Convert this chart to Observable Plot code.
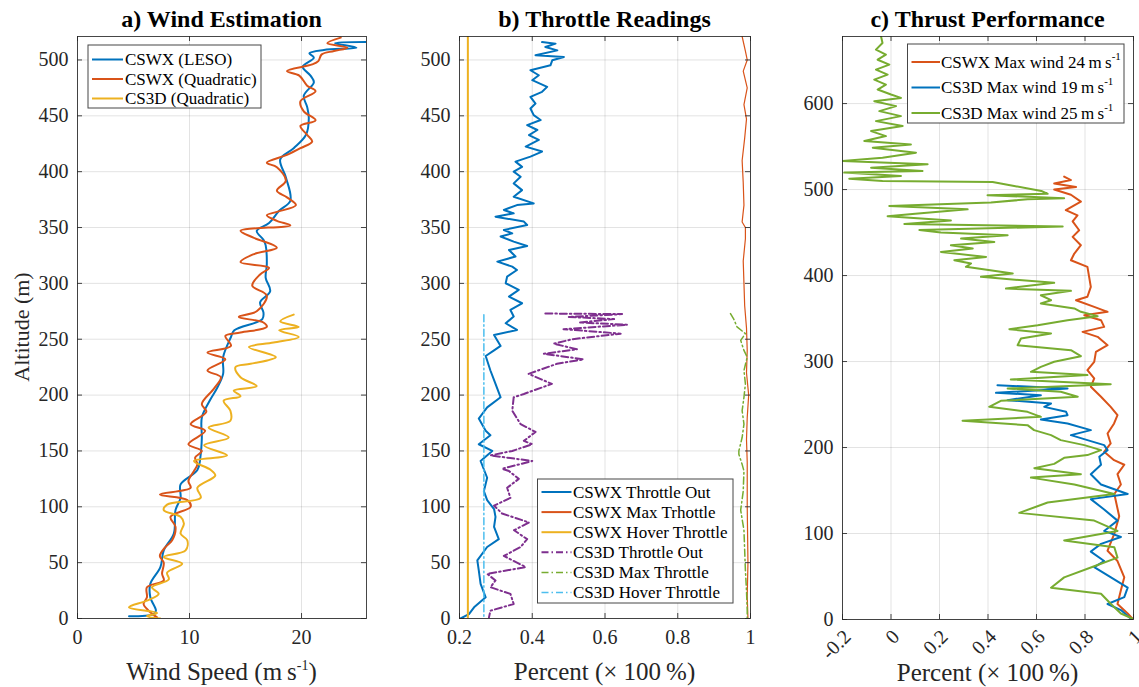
<!DOCTYPE html>
<html><head><meta charset="utf-8">
<script src="https://cdn.jsdelivr.net/npm/d3@7"></script>
<script src="https://cdn.jsdelivr.net/npm/@observablehq/plot@0.6"></script>
<style>
body{margin:0;background:#fff;}
#wrap{position:relative;width:1139px;height:687px;overflow:hidden;font-family:"Liberation Serif","Times New Roman",serif;color:#262626;background:#fff;}
.panel{position:absolute;top:0;}
.panel svg{max-width:none;}
.panel svg text{font-family:"Liberation Serif","Times New Roman",serif;}
.title{position:absolute;font-weight:bold;font-size:24px;color:#000;transform:translateX(-50%);white-space:nowrap;line-height:28px;}
.xlab{position:absolute;font-size:25px;color:#262626;transform:translate(-50%,-50%);white-space:nowrap;}
.xlab sup{font-size:14px;vertical-align:10px;line-height:0;}
.ylab{position:absolute;font-size:22px;color:#262626;transform:translate(-50%,-50%) rotate(-90deg);white-space:nowrap;}
#overlay{position:absolute;left:0;top:0;pointer-events:none;}
</style></head>
<body><div id="wrap"></div>
<script>
// ---------------- DATA ----------------
// Panel a: [altitude m, wind speed m/s]
const windLESO = [[516,25.8],[515,23.0],[511,24.9],[509,22.0],[506,20.7],[502,21.1],[494,20.1],[486,20.8],[480,21.1],[468,20.2],[458,20.5],[448,20.65],[433,20.4],[421,19.3],[411,18.1],[395,18.6],[374,19.0],[365,18.0],[354,17.1],[347,16.0],[339,16.6],[334,16.8],[317,16.9],[305,16.8],[293,17.2],[283,16.3],[274,16.6],[268,16.5],[258,14.0],[252,13.7],[234,13.0],[219,13.0],[207,12.5],[195,11.8],[180,11.1],[162,11.1],[147,11.0],[133,10.7],[120,9.2],[108,9.2],[97,8.75],[76,8.6],[61,7.7],[46,7.4],[31,6.5],[19,6.5],[7,7.0],[4,6.8],[2,4.6]];
const windQuadCSWX = [[520,23.5],[515,22.3],[511,24.1],[508,22.9],[505,21.8],[499,21.5],[496,20.95],[490,18.7],[486,19.8],[477,20.5],[472,21.25],[463,19.9],[454,20.2],[446,21.25],[441,19.9],[433,20.5],[427,20.95],[421,19.9],[415,18.7],[408,16.9],[404,17.8],[392,18.6],[383,17.8],[377,18.7],[370,19.5],[364,17.8],[361,16.9],[356,17.8],[352,19.0],[347,14.55],[341,15.7],[332,17.8],[326,15.7],[319,14.55],[314,17.1],[308,16.3],[298,15.6],[289,16.9],[275,16.0],[270,14.4],[265,16.6],[261,16.9],[256,14.55],[253,13.2],[244,13.7],[238,11.6],[232,13.2],[222,11.6],[216,12.8],[206,12.2],[192,11.1],[185,11.5],[174,10.1],[168,11.4],[156,9.9],[150,11.1],[144,10.5],[138,10.7],[132,10.4],[123,9.9],[117,10.1],[111,7.35],[106,9.8],[100,10.1],[91,8.3],[82,8.75],[70,8.45],[64,7.85],[56,7.35],[50,7.7],[40,7.55],[34,7.7],[28,6.2],[19,6.2],[13,5.9],[7,6.35],[1,7.1]];
const windQuadCS3D = [[272,19.3],[266,18.1],[261,19.75],[258,18.0],[252,19.75],[247,17.5],[243,15.3],[234,17.7],[228,15.45],[225,14.1],[216,14.55],[208,16.0],[204,13.95],[199,14.55],[195,13.05],[186,13.65],[177,13.65],[171,11.7],[162,13.5],[155,11.3],[146,13.35],[141,10.4],[133,11.9],[128,12.3],[117,10.7],[108,11.0],[102,8.0],[97,7.7],[91,9.2],[85,9.5],[76,9.2],[70,9.8],[61,9.65],[55,7.7],[49,9.35],[41,8.0],[35,8.15],[28,6.65],[22,7.25],[16,6.2],[10,4.6],[5,7.1],[2,6.2],[0,7.4]];
const windLabels = ["CSWX (LESO)", "CSWX (Quadratic)", "CS3D (Quadratic)"];

// Panel b: [altitude m, throttle fraction]
const thrCSWXOut = [[516,0.427],[514.6,0.464],[511.6,0.436],[508.6,0.469],[504.2,0.409],[502.7,0.487],[499.7,0.455],[495.2,0.450],[490.8,0.395],[486.3,0.418],[481.9,0.400],[475.9,0.441],[471.5,0.427],[467,0.395],[461,0.409],[456.6,0.395],[450.6,0.404],[446.2,0.423],[441.7,0.386],[437.3,0.414],[432.8,0.391],[428.4,0.418],[422.4,0.382],[418,0.427],[413.5,0.395],[409,0.354],[404.3,0.372],[400,0.349],[395.4,0.368],[389.5,0.349],[383.5,0.372],[377.6,0.349],[371.6,0.404],[370.1,0.358],[365.7,0.322],[362.7,0.349],[359.7,0.299],[355.3,0.377],[352.3,0.386],[347.8,0.322],[344.8,0.345],[341.9,0.313],[337.4,0.349],[333.5,0.386],[329.9,0.336],[324,0.354],[319.5,0.304],[315,0.345],[312,0.358],[306.1,0.331],[300.1,0.327],[294.2,0.363],[288.2,0.336],[282.2,0.372],[276.2,0.340],[270.3,0.349],[264.3,0.327],[258.3,0.358],[253.8,0.295],[244,0.313],[240,0.295],[235,0.272],[222,0.285],[210,0.299],[198,0.313],[189,0.276],[179,0.253],[168,0.272],[164,0.285],[156,0.253],[150,0.290],[141,0.258],[126,0.276],[114,0.267],[106,0.276],[98,0.295],[91,0.299],[82,0.295],[71,0.308],[64,0.276],[52,0.249],[43,0.253],[31,0.258],[19,0.272],[10,0.240],[4,0.226],[0,0.203]];
const thrCSWXMax = [[521,0.977],[508,0.986],[500,0.991],[490,0.980],[475,0.991],[460,0.982],[447,0.989],[430,0.984],[410,0.977],[390,0.980],[370,0.982],[355,0.977],[350,0.986],[340,0.986],[320,0.980],[300,0.982],[280,0.984],[260,0.989],[240,0.991],[220,0.989],[200,0.995],[180,0.991],[160,0.989],[140,0.991],[130,0.991],[100,0.991],[50,0.993],[20,0.991],[0,0.993]];
const thrCSWXHover = [[521,0.223],[0,0.223]];
const thrCS3DOut = [[273,0.436],[272.5,0.647],[270,0.50],[268,0.625],[265,0.53],[263,0.661],[259,0.486],[255,0.643],[250,0.510],[246,0.459],[241,0.523],[237,0.432],[232,0.541],[228,0.468],[219,0.390],[210,0.454],[201,0.377],[198,0.349],[186,0.345],[174,0.368],[167,0.409],[159,0.377],[156,0.400],[150,0.345],[146,0.285],[141,0.400],[134,0.317],[132,0.336],[125,0.363],[117,0.331],[108,0.340],[101,0.295],[94,0.317],[86,0.391],[79,0.350],[71,0.386],[64,0.368],[56,0.322],[46,0.382],[40,0.276],[34,0.299],[28,0.285],[22,0.340],[13,0.349],[7,0.285],[1,0.281]];
const thrCS3DMax = [[273,0.945],[268,0.954],[261,0.963],[255,0.986],[249,0.973],[240,0.982],[234,0.991],[222,0.982],[210,0.986],[198,0.982],[186,0.977],[174,0.982],[162,0.977],[150,0.968],[147,0.968],[138,0.977],[132,0.982],[114,0.980],[97,0.973],[79,0.982],[61,0.984],[43,0.986],[25,0.989],[7,0.991],[0,0.991]];
const thrCS3DHover = [[272,0.267],[0,0.267]];
const throttleLabels = ["CSWX Throttle Out", "CSWX Max Trhottle", "CSWX Hover Throttle", "CS3D Throttle Out", "CS3D Max Throttle", "CS3D Hover Throttle"];

// Panel c: [altitude m, thrust fraction]
const thrustCSWX24 = [[515,0.714],[511,0.742],[507,0.673],[503,0.763],[500,0.673],[494,0.742],[486,0.783],[476,0.721],[470,0.769],[463,0.749],[452.7,0.776],[445,0.749],[435.3,0.783],[425.6,0.756],[417.8,0.742],[410.1,0.81],[398.5,0.817],[386.9,0.824],[375.3,0.81],[371.3,0.763],[363.6,0.838],[357.8,0.893],[353.9,0.797],[348.1,0.866],[340.3,0.879],[334.5,0.79],[328.7,0.852],[319,0.893],[311.3,0.845],[299.7,0.838],[290,0.81],[280.3,0.838],[270.6,0.824],[259,0.866],[247.3,0.906],[237.6,0.934],[228,0.92],[216.3,0.893],[204.7,0.906],[195,0.879],[185.3,0.92],[180,0.962],[169,0.934],[157,0.948],[146,0.921],[120,0.941],[100,0.921],[80,0.893],[68,0.934],[49,0.962],[34,0.948],[18,0.934],[7,0.976],[1,0.996]];
const thrustCS3D19 = [[272.5,0.439],[268.6,0.728],[263.6,0.433],[260.9,0.618],[255.1,0.481],[251.2,0.66],[247.3,0.632],[241.5,0.722],[237.6,0.728],[232.6,0.618],[228,0.728],[220.2,0.824],[214.4,0.742],[208.6,0.81],[202.8,0.879],[197,0.893],[189.3,0.859],[180,0.866],[169,0.824],[157,0.866],[146,0.976],[140,0.824],[128,0.879],[115,0.934],[103,0.879],[96,0.948],[88,0.866],[79,0.824],[68,0.879],[61,0.838],[49,0.907],[37,0.976],[26,0.962],[18,0.893],[11,0.948],[1,0.989]];
const thrustCS3D25 = [[678,-0.041],[670.5,-0.035],[662.7,-0.062],[657,-0.021],[651,-0.055],[645.3,-0.007],[639.5,-0.062],[633.7,-0.014],[627.9,-0.069],[622.1,-0.021],[616.3,-0.055],[610.5,0.0],[606.6,0.041],[602.8,-0.069],[597,0.021],[591.2,-0.048],[585.4,0.041],[579.6,-0.062],[573.8,0.048],[568,-0.082],[562.2,-0.021],[556.4,-0.11],[552.5,0.082],[548.7,-0.075],[542.9,0.103],[537.1,-0.035],[533.2,-0.2],[529.4,0.151],[525.5,-0.082],[521.6,0.13],[519.7,-0.193],[515.8,0.041],[512.7,-0.172],[510,-0.035],[508.9,0.419],[504.2,0.508],[498.4,0.62],[495,0.646],[493.4,0.398],[490,0.714],[488.7,0.563],[484.9,0.412],[481,-0.007],[477,0.316],[472,0.1],[469,-0.014],[464,0.247],[460,0.055],[457,0.708],[453,0.117],[450,0.206],[446.9,0.481],[443,0.289],[439,0.426],[435.3,0.247],[431.4,0.337],[427.5,0.206],[421.7,0.392],[417.8,0.261],[414,0.33],[410.1,0.309],[402.3,0.502],[398.5,0.371],[391.5,0.673],[384.9,0.474],[382.2,0.742],[377.1,0.618],[371.3,0.66],[367.5,0.618],[361.7,0.756],[357.8,0.783],[352.8,0.852],[348.1,0.728],[342.3,0.605],[337.6,0.488],[332.6,0.66],[326.8,0.536],[319,0.522],[313.2,0.742],[306.2,0.783],[299.7,0.673],[293.8,0.618],[288,0.577],[284.2,0.81],[279.1,0.494],[273.7,0.906],[268.6,0.481],[264.8,0.7],[259,0.77],[254.3,0.453],[247.3,0.405],[241.5,0.563],[235.7,0.618],[231.1,0.295],[226,0.563],[220.2,0.59],[214.4,0.66],[208.6,0.7],[202.8,0.797],[197,0.866],[191.2,0.81],[188,0.714],[181,0.673],[176,0.591],[169,0.783],[165,0.577],[157,0.756],[146,0.921],[136,0.646],[124,0.529],[115,0.838],[103,0.934],[92,0.714],[84,0.921],[72,0.934],[62,0.838],[49,0.714],[37,0.660],[30,0.866],[18,0.907],[7,0.948],[1,0.996]];
const thrustLabels = ["CSWX Max wind 24", "CS3D Max wind 19", "CS3D Max wind 25"];

// ticks
const windTicks = [0, 10, 20];
const altTicksAB = [0, 50, 100, 150, 200, 250, 300, 350, 400, 450, 500];
const pctTicksB = [0.2, 0.4, 0.6, 0.8, 1];
const pctTicksC = [-0.2, 0, 0.2, 0.4, 0.6, 0.8, 1];
const altTicksC = [0, 100, 200, 300, 400, 500, 600];

// ---------------- DRAWING ----------------
const C = {blue:"#0072BD", orange:"#D95319", yellow:"#EDB120", purple:"#7E2F8E", green:"#77AC30", cyan:"#4DBEEE"};
const DASHDOT = "7,3,1.5,3";
const SERIF = "'Liberation Serif','Times New Roman',serif";
const fmt = d => d3.format("~g")(d).replace("\u2212", "-");
const wrap = document.getElementById("wrap");

function panel(o) {
  const H = 687;
  const pw = o.width - o.ml - o.mr, ph = H - o.mt - o.mb;
  const marks = [
    Plot.gridX(o.xTicks, {stroke: "#262626", strokeOpacity: 0.13}),
    Plot.gridY(o.yTicks, {stroke: "#262626", strokeOpacity: 0.13}),
    ...o.series.map(s => Plot.line(s.data, {x: d => d[1], y: d => d[0], stroke: s.color, strokeWidth: s.w || 2, strokeDasharray: s.dash, curve: s.curve || "linear", clip: true})),
    Plot.tickY(o.yTicks, {y: d => d, insetRight: pw - 5, stroke: "#262626", strokeOpacity: 0.85}),
    Plot.tickY(o.yTicks, {y: d => d, insetLeft: pw - 5, stroke: "#262626", strokeOpacity: 0.85}),
    Plot.tickX(o.xTicks, {x: d => d, insetTop: ph - 5, stroke: "#262626", strokeOpacity: 0.85}),
    Plot.tickX(o.xTicks, {x: d => d, insetBottom: ph - 5, stroke: "#262626", strokeOpacity: 0.85}),
    Plot.axisY(o.yTicks, {anchor: "left", tickSize: 0, tickPadding: 9, label: null, tickFormat: fmt, fontSize: 20, fontFamily: SERIF, fill: "#262626"}),
    Plot.axisX(o.xTicks, {anchor: "bottom", tickSize: 0, tickPadding: o.xPad, dx: o.xdx || 0, label: null, tickFormat: fmt, tickRotate: o.rot || 0, fontSize: 20, fontFamily: SERIF, fill: "#262626"}),
    Plot.frame({stroke: "#262626", strokeOpacity: 0.85})
  ];
  const svg = Plot.plot({
    width: o.width, height: H,
    marginLeft: o.ml, marginRight: o.mr, marginTop: o.mt, marginBottom: o.mb,
    x: {domain: o.xDomain},
    y: {domain: o.yDomain},
    style: {fontFamily: SERIF, fontSize: "20px", background: "transparent", color: "#262626"},
    marks
  });
  const div = document.createElement("div");
  div.className = "panel";
  div.style.left = o.left + "px";
  div.appendChild(svg);
  wrap.appendChild(div);
}

panel({left: 0, width: 380, ml: 77, mr: 14, mt: 36, mb: 69, xDomain: [0, 25.8], yDomain: [0, 521],
  xTicks: windTicks, yTicks: altTicksAB, xPad: 11,
  series: [
    {data: windLESO, color: C.blue, curve: "catmull-rom"},
    {data: windQuadCSWX, color: C.orange, curve: "catmull-rom"},
    {data: windQuadCS3D, color: C.yellow, curve: "catmull-rom"}
  ]});

panel({left: 380, width: 380, ml: 79, mr: 10, mt: 36, mb: 69, xDomain: [0.2, 1], yDomain: [0, 521],
  xTicks: pctTicksB, yTicks: altTicksAB, xPad: 11,
  series: [
    {data: thrCSWXOut, color: C.blue, w: 2},
    {data: thrCSWXMax, color: C.orange, w: 1.2},
    {data: thrCSWXHover, color: C.yellow, w: 2},
    {data: thrCS3DOut, color: C.purple, w: 2, dash: DASHDOT},
    {data: thrCS3DMax, color: C.green, w: 1.5, dash: DASHDOT},
    {data: thrCS3DHover, color: C.cyan, w: 1.5, dash: DASHDOT}
  ]});

panel({left: 760, width: 379, ml: 82, mr: 6, mt: 36, mb: 68, xDomain: [-0.2, 1], yDomain: [0, 678],
  xTicks: pctTicksC, yTicks: altTicksC, xPad: 14, xdx: 5, rot: -45,
  series: [
    {data: thrustCSWX24, color: C.orange, w: 2},
    {data: thrustCS3D19, color: C.blue, w: 2},
    {data: thrustCS3D25, color: C.green, w: 2}
  ]});

// titles and axis labels
function addDiv(cls, html, x, y) {
  const d = document.createElement("div");
  d.className = cls; d.innerHTML = html;
  d.style.left = x + "px"; d.style.top = y + "px";
  wrap.appendChild(d);
}
addDiv("title", "a) Wind Estimation", 221.5, 5);
addDiv("title", "b) Throttle Readings", 604.5, 5);
addDiv("title", "c) Thrust Performance", 987.5, 5);
addDiv("xlab", "Wind Speed (m\u2009s<sup>-1</sup>)", 221.5, 672);
addDiv("xlab", "Percent (\u00d7 100\u2009%)", 604.5, 672);
addDiv("xlab", "Percent (\u00d7 100\u2009%)", 987.5, 673);
addDiv("ylab", "Altitude (m)", 22, 327);

// legends
const ov = d3.select("#wrap").append("svg").attr("id", "overlay").attr("width", 1139).attr("height", 687);
function legend(L) {
  const g = ov.append("g");
  g.append("rect").attr("x", L.x).attr("y", L.y).attr("width", L.w).attr("height", L.h)
    .attr("fill", "#fff").attr("stroke", "#262626").attr("stroke-opacity", 0.85);
  L.items.forEach((it, i) => {
    const yy = L.y0 + i * L.step;
    g.append("line").attr("x1", L.lx1).attr("x2", L.lx2).attr("y1", yy).attr("y2", yy)
      .attr("stroke", it.color).attr("stroke-width", it.w || 2).attr("stroke-dasharray", it.dash || null);
    const t = g.append("text").attr("x", L.tx).attr("y", yy).attr("dy", "0.35em")
      .attr("font-family", SERIF).attr("font-size", 17).attr("fill", "#000")
      .text(it.label);
    if (it.unit) {
      t.append("tspan").text("\u2009m\u2009s");
      t.append("tspan").attr("font-size", 11).attr("dy", "-0.75em").text("-1");
    }
  });
}
legend({x: 88, y: 45, w: 173, h: 63, y0: 59.5, step: 19.5, lx1: 92, lx2: 123, tx: 125,
  items: [
    {label: windLabels[0], color: C.blue},
    {label: windLabels[1], color: C.orange},
    {label: windLabels[2], color: C.yellow}
  ]});
legend({x: 537.5, y: 479, w: 195.5, h: 124, y0: 492, step: 20.1, lx1: 541.5, lx2: 571.5, tx: 573,
  items: [
    {label: throttleLabels[0], color: C.blue},
    {label: throttleLabels[1], color: C.orange},
    {label: throttleLabels[2], color: C.yellow},
    {label: throttleLabels[3], color: C.purple, dash: DASHDOT},
    {label: throttleLabels[4], color: C.green, dash: DASHDOT, w: 1.5},
    {label: throttleLabels[5], color: C.cyan, dash: DASHDOT, w: 1.5}
  ]});
legend({x: 907.5, y: 44, w: 216.5, h: 79, y0: 62, step: 25.5, lx1: 911.5, lx2: 940, tx: 941,
  items: [
    {label: thrustLabels[0], color: C.orange, unit: true},
    {label: thrustLabels[1], color: C.blue, unit: true},
    {label: thrustLabels[2], color: C.green, unit: true}
  ]});
</script>
</body></html>
